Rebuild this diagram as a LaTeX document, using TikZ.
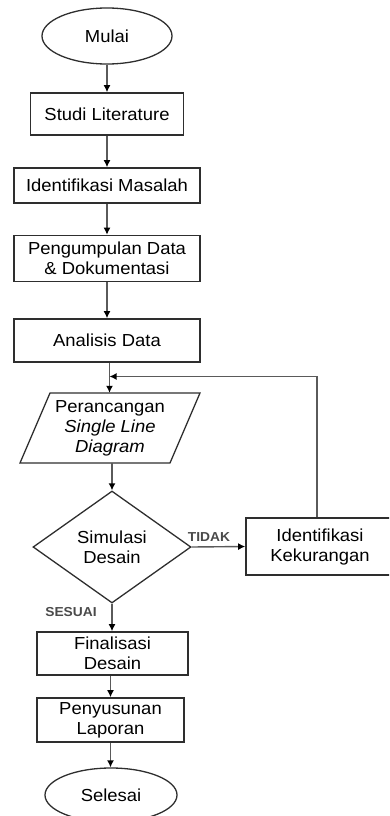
\documentclass[tikz,border=0pt]{standalone}
\usepackage{fontspec}
\setmainfont{Liberation Sans}[FakeStretch=1.06]
\usetikzlibrary{shapes.geometric,arrows.meta}
\definecolor{linegray}{HTML}{5A5A5A}
\definecolor{boxline}{HTML}{2E2E2E}
\definecolor{labgray}{HTML}{4A4A4A}
\tikzset{
  base/.style={font=\fontsize{17.4}{20}\selectfont, text=black, align=center, inner sep=0pt},
  procbox/.style={base, draw=boxline, line width=1.6pt, rectangle},
  term/.style={base, draw=boxline, line width=1.3pt, ellipse},
  decision/.style={base, draw=boxline, line width=1.3pt, diamond, aspect=1.41},
  flow/.style={draw=linegray, line width=1.4pt, -{Latex[length=7pt,width=7pt,color=black]}},
  lab/.style={font=\bfseries\fontsize{13}{14}\selectfont, text=labgray, inner sep=0pt}
}
\begin{document}
\begin{tikzpicture}[x=1pt,y=-1pt]
\useasboundingbox (0,0) rectangle (389,816);
\begin{scope}
\clip (0,0) rectangle (389,816);
\node[term, minimum width=130pt, minimum height=56pt] (mulai) at (107,36) {Mulai};
\node[procbox, minimum width=153pt, minimum height=42pt] (studi) at (107,114) {Studi Literature};
\node[procbox, minimum width=186pt, minimum height=35pt] (ident) at (107,185.5) {Identifikasi Masalah};
\node[procbox, minimum width=186pt, minimum height=46pt] (peng) at (107,258.5) {Pengumpulan Data\\\& Dokumentasi};
\node[procbox, minimum width=186pt, minimum height=43pt] (ana) at (107,340.5) {Analisis Data};
% parallelogram
\coordinate (ptl) at (50,393);
\coordinate (ptr) at (200,393);
\coordinate (pbr) at (170,463);
\coordinate (pbl) at (20,463);
\draw[draw=boxline, line width=1.3pt] (ptl) -- (ptr) -- (pbr) -- (pbl) -- cycle;
\node[base, minimum width=150pt, minimum height=70pt] (per) at (110,428) {Perancangan\\\textit{Single Line}\\\textit{Diagram}};
\node[decision, minimum width=158pt, minimum height=112pt] (sim) at (112,547) {Simulasi\\Desain};
\node[procbox, minimum width=148pt, minimum height=57pt] (kek) at (320,546.5) {Identifikasi\\Kekurangan};
\node[procbox, minimum width=151pt, minimum height=43pt] (fin) at (112.5,653.5) {Finalisasi\\Desain};
\node[procbox, minimum width=147pt, minimum height=44pt] (pen) at (110.5,720) {Penyusunan\\Laporan};
\node[term, minimum width=132pt, minimum height=54pt] (sel) at (111,795) {Selesai};

\coordinate (fb) at (109.5,376.5);

\draw[flow] (mulai.south) -- (mulai.south |- studi.north);
\draw[flow] (studi.south) -- (ident.north);
\draw[flow] (ident.south) -- (peng.north);
\draw[flow] (peng.south) -- (ana.north);
\draw[flow] (ana.south -| fb) -- (fb |- per.north);
\draw[flow] (kek.north -| 317,0) |- (fb);
\draw[flow] (per.south -| sim.north) -- (sim.north);
\draw[flow] (sim.east) -- (kek.west);
\draw[flow] (sim.south) -- (sim.south |- fin.north);
\draw[flow] (fin.south -| pen.north) -- (pen.north);
\draw[flow] (pen.south) -- (pen.south |- sel.north);

\node[lab] (tidak) at (209,537) {TIDAK};
\node[lab] (sesuai) at (71,612) {SESUAI};
\end{scope}
\end{tikzpicture}
\end{document}
